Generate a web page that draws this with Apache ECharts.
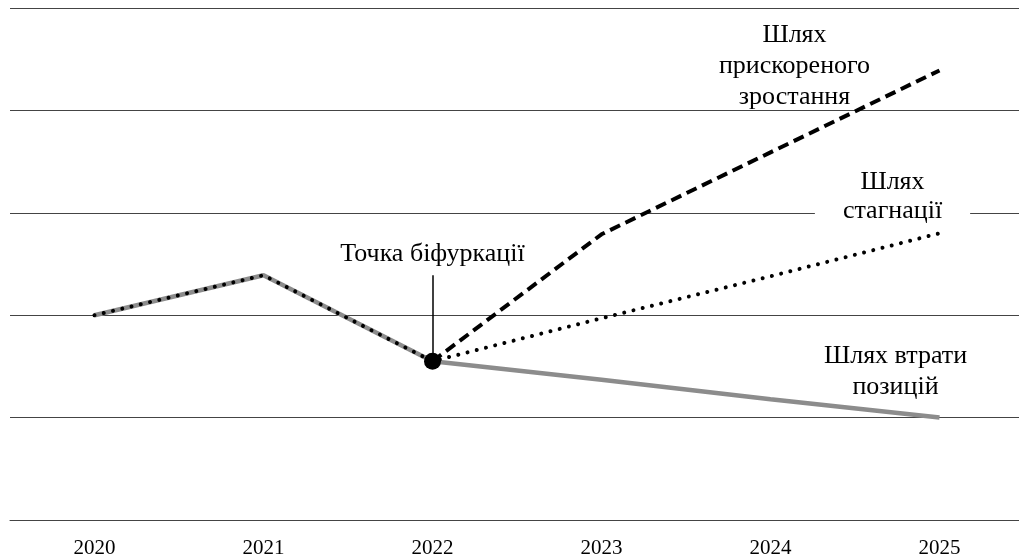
<!DOCTYPE html>
<html>
<head>
<meta charset="utf-8">
<script src="https://cdn.jsdelivr.net/npm/echarts@6/dist/echarts.min.js"></script>
<style>
  html, body { margin: 0; padding: 0; background: #fff; }
  #chart { width: 1019px; height: 560px; }
</style>
</head>
<body>
<div id="chart"></div>
<script>
// дані
const years = ['2020', '2021', '2022', '2023', '2024', '2025']
const lossPath = [2.0, 2.39, 1.55, 1.37, 1.18, 1.0]       // шлях втрати позицій
const stagnationPath = [2.0, 2.39, 1.55, 1.97, 2.38, 2.8] // шлях стагнації
const growthPath = [null, null, 1.55, 2.79, 3.59, 4.39]  // шлях прискореного зростання
const bifurcation = ['2022', 1.55]
const bifurcationTop = 2.39

const serif = '"Liberation Serif", "Times New Roman", serif'

const chart = echarts.init(document.getElementById('chart'))

const endLabel = (text, offset, extra) => ({
  show: true,
  formatter: text,
  offset: offset,
  position: 'inside',
  align: 'center',
  verticalAlign: 'middle',
  fontFamily: serif,
  fontSize: 26,
  lineHeight: 31,
  color: '#000',
  ...extra
})

chart.setOption({
  animation: false,
  backgroundColor: '#fff',
  grid: {left: 10, width: 1014, top: 8, bottom: 40, outerBoundsMode: 'none'},
  xAxis: {
    type: 'category',
    data: years,
    boundaryGap: true,
    axisTick: {show: false},
    axisLine: {show: true, lineStyle: {color: '#444', width: 1}},
    axisLabel: {margin: 18, fontFamily: serif, fontSize: 21, color: '#000'}
  },
  yAxis: {
    type: 'value',
    min: 0,
    max: 5,
    interval: 1,
    axisLabel: {show: false},
    axisLine: {show: false},
    axisTick: {show: false},
    splitLine: {lineStyle: {color: '#444', width: 1}}
  },
  series: [
    {
      name: 'Шлях втрати позицій',
      type: 'line',
      data: lossPath,
      showSymbol: false,
      z: 2,
      lineStyle: {color: '#8c8c8c', width: 4.5},
      markPoint: {
        symbol: 'circle',
        symbolSize: 0,
        data: [{coord: ['2025', lossPath[5]]}],
        label: endLabel('Шлях втрати\nпозицій', [-44, -46])
      }
    },
    {
      name: 'Шлях стагнації',
      type: 'line',
      data: stagnationPath,
      showSymbol: false,
      z: 3,
      lineStyle: {color: '#000', width: 4, type: [0.01, 9.5], cap: 'round'},
      markPoint: {
        symbol: 'circle',
        symbolSize: 0,
        data: [{coord: ['2025', stagnationPath[5]]}],
        label: endLabel('Шлях\nстагнації', [-47, -37], {backgroundColor: '#fff', padding: [0, 28], lineHeight: 29})
      }
    },
    {
      name: 'Шлях прискореного зростання',
      type: 'line',
      data: growthPath,
      showSymbol: false,
      z: 4,
      lineStyle: {color: '#000', width: 4, type: [11, 6]},
      markPoint: {
        symbol: 'circle',
        symbolSize: 0,
        data: [{coord: ['2025', growthPath[5]]}],
        label: endLabel('Шлях\nприскореного\nзростання', [-145, -4])
      }
    },
    {
      name: 'Точка біфуркації',
      type: 'scatter',
      data: [bifurcation],
      symbolSize: 17,
      z: 5,
      itemStyle: {color: '#000', opacity: 1},
      markLine: {
        symbol: 'none',
        silent: true,
        lineStyle: {color: '#000', width: 1.5, type: 'solid'},
        label: {
          show: true,
          position: 'end',
          distance: 8,
          formatter: 'Точка біфуркації',
          fontFamily: serif,
          fontSize: 26,
          color: '#000'
        },
        data: [[{coord: bifurcation}, {coord: ['2022', bifurcationTop]}]]
      }
    }
  ]
})
</script>
</body>
</html>
